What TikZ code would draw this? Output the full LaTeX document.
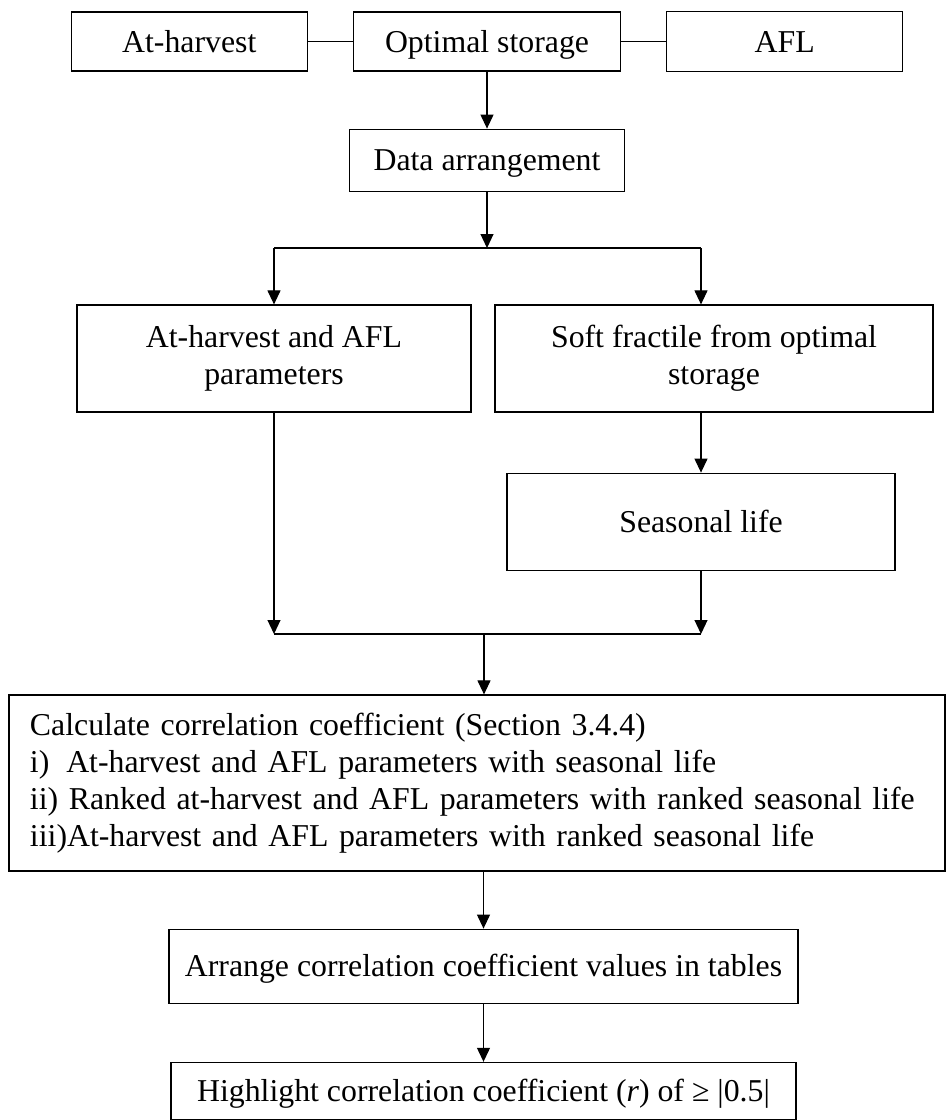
\documentclass[tikz,border=0pt]{standalone}
\usepackage{fontspec}
\setmainfont{Liberation Serif}
\usetikzlibrary{positioning, arrows.meta, calc}

\begin{document}
\begin{tikzpicture}[
    x=1pt, y=-1pt,
    node distance=45pt,
    box/.style={draw, line width=1.2pt, inner sep=0pt, align=center,
                font=\fontsize{31.8}{36.8}\selectfont},
    onebox/.style={box, text height=24pt, text depth=3pt},
    arr/.style={-{Triangle[length=14pt, width=13pt]}, line width=1.1pt},
    link/.style={line width=1.1pt},
  ]
  \useasboundingbox (0,0) rectangle (947,1120);

  % ── Inputs ──
  \node[onebox, minimum width=267pt, minimum height=59pt] (optimal) at (487,41.5) {Optimal storage};
  \node[onebox, minimum width=236pt, minimum height=59pt, left=45pt of optimal] (harvest) {At-harvest};
  \node[onebox, minimum width=236pt, minimum height=60pt, right=45pt of optimal] (afl) {AFL};
  \node[onebox, minimum width=275pt, minimum height=62pt, below=57pt of optimal] (dataarr) {Data arrangement};

  % ── Two branches ──
  \node[box, minimum width=394pt, minimum height=107pt] (params) at (274,358.5) {At-harvest and AFL\\parameters};
  \node[box, minimum width=438pt, minimum height=107pt] (softfrac) at (714,358.5) {Soft fractile from optimal\\storage};
  \node[onebox, minimum width=388pt, minimum height=97pt, below=60pt of softfrac, xshift=-13pt] (seasonal) {Seasonal life};

  % ── Correlation ──
  \node[box, align=left, text width=894pt, inner xsep=21pt, minimum width=936pt, minimum height=176pt]
    (calc) at (477,783) {Calculate correlation coefficient (Section 3.4.4)\\
    \makebox[1.14em][l]{i)}At-harvest and AFL parameters with seasonal life\\
    ii) Ranked at-harvest and AFL parameters with ranked seasonal life\\
    iii)At-harvest and AFL parameters with ranked seasonal life};
  \node[onebox, minimum width=629pt, minimum height=74pt, below=57pt of calc, xshift=6.5pt] (tables)
    {Arrange correlation coefficient values in tables};
  \node[onebox, minimum width=625pt, minimum height=57pt, below=58pt of tables] (highlight)
    {Highlight correlation coefficient (\textit{r}) of ≥ |0.5|};

  % ── Links ──
  \draw[link] (harvest) -- (optimal);
  \draw[link] (optimal) -- (afl);
  \draw[arr] (optimal) -- (dataarr);

  \coordinate (split) at (487,248);
  \draw[arr] (dataarr) -- (split);
  \draw[link] (params.north |- split) -- (seasonal.north |- split);
  \draw[arr] (params.north |- split) -- (params.north);
  \draw[arr] (seasonal.north |- split) -- (seasonal.north |- softfrac.north);
  \draw[arr] (softfrac.south -| seasonal.north) -- (seasonal.north);

  \coordinate (join) at (484,634);
  \draw[arr] (params.south) -- (params.south |- join);
  \draw[arr] (seasonal.south) -- (seasonal.south |- join);
  \draw[link] (params.south |- join) -- (seasonal.south |- join);
  \draw[arr] (join) -- (join |- calc.north);
  \draw[arr] (calc.south -| tables.north) -- (tables.north);
  \draw[arr] (tables) -- (highlight);

\end{tikzpicture}
\end{document}
